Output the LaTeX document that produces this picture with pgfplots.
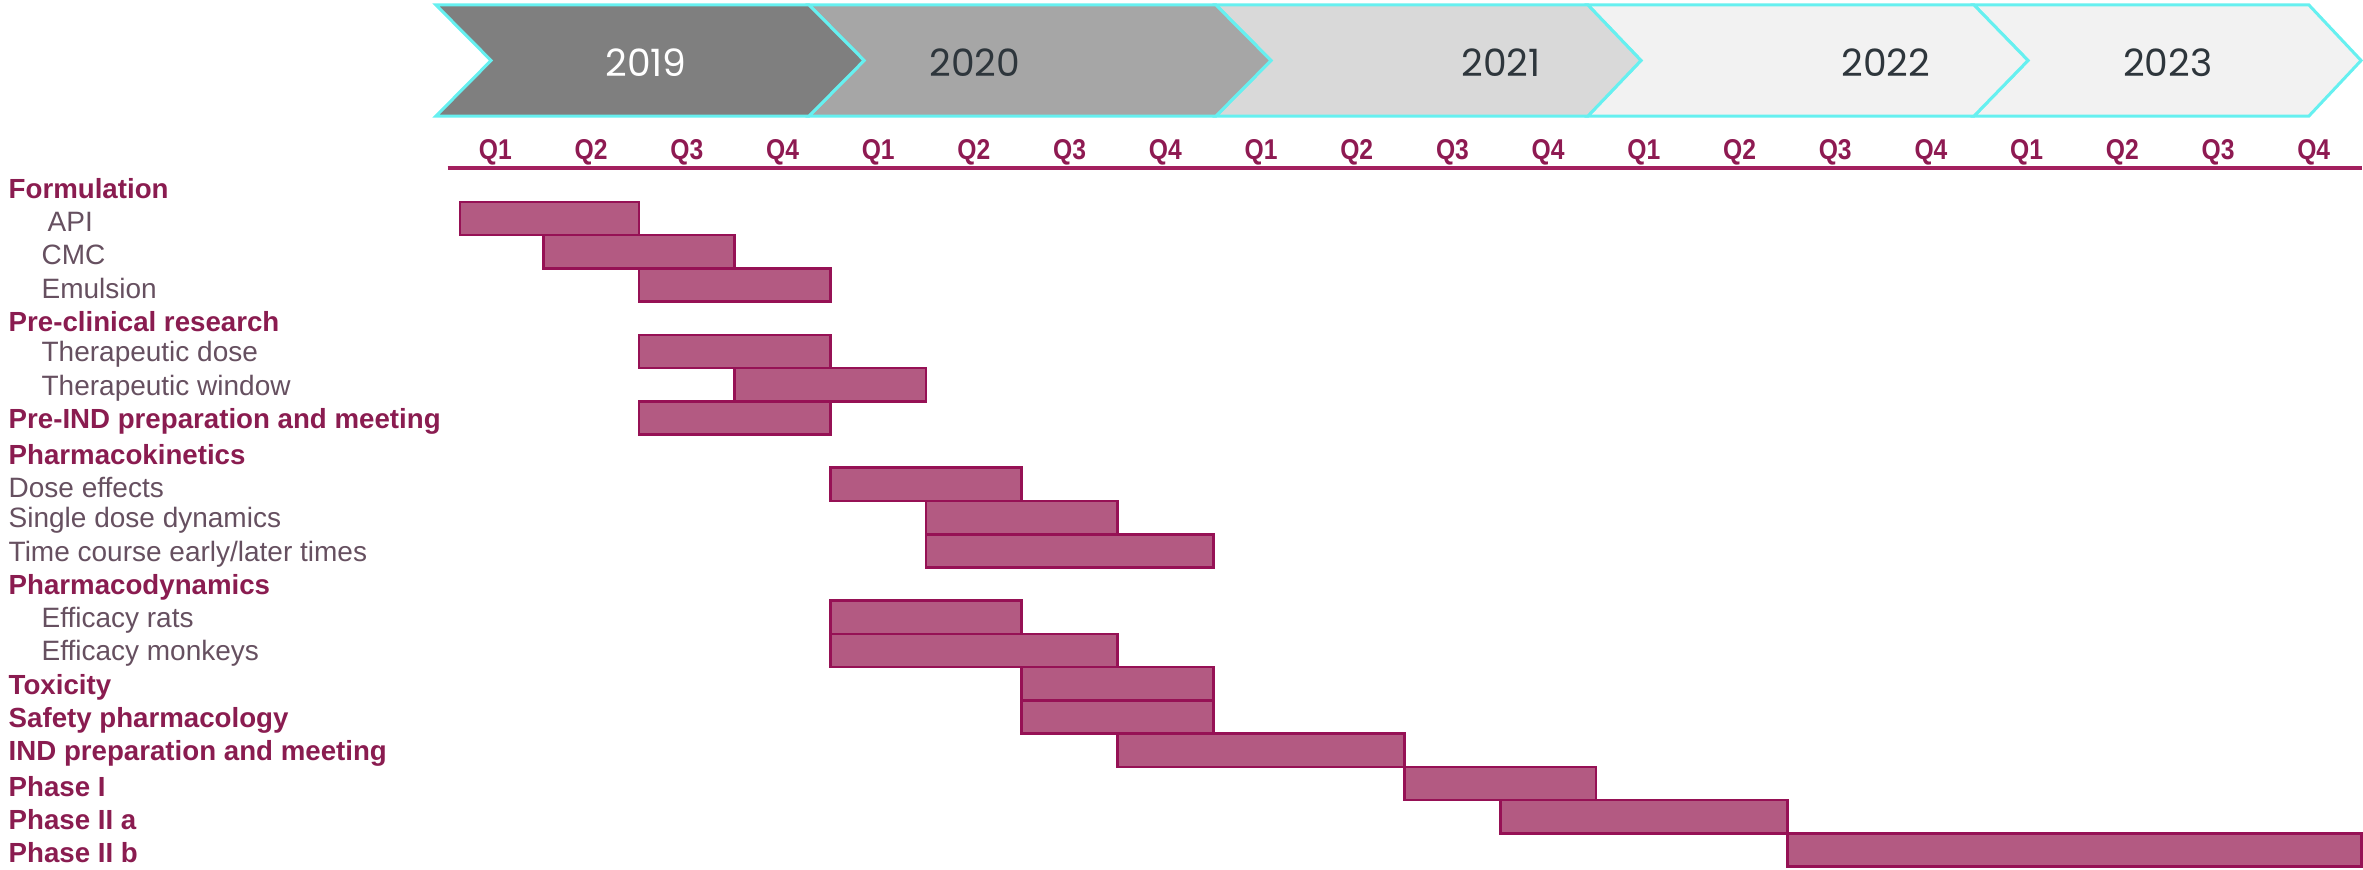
\documentclass[border=0pt]{standalone}
\usepackage{fontspec}
\setmainfont{Liberation Sans}
\newfontfamily\yearfont{Poppins}
\newfontfamily\qfont[FakeStretch=0.86]{Liberation Sans}
\usepackage{pgfplots}
\usepackage{pgfplotstable}
\pgfplotsset{compat=1.18}
\definecolor{barfill}{HTML}{B35A82}
\definecolor{barline}{HTML}{961155}
\definecolor{head}{HTML}{8A1C50}
\definecolor{sub}{HTML}{665060}
\definecolor{qcol}{HTML}{8E1A52}
\definecolor{qline}{HTML}{A3205E}
\definecolor{cyanl}{HTML}{66F0F0}
\definecolor{ch1}{HTML}{7F7F7F}
\definecolor{ch2}{HTML}{A6A6A6}
\definecolor{ch3}{HTML}{D9D9D9}
\definecolor{ch4}{HTML}{F2F2F2}
\definecolor{ytext}{HTML}{2E363C}

% row index (0 = Formulation), start quarter, duration in quarters (0 = Q1 2019)
\pgfplotstableread{
row start dur
1  0.13 1.87
2  1    2
3  2    2
5  2    2
6  3    2
7  2    2
9  4    2
10 5    2
11 5    3
13 4    2
14 4    3
15 6    2
16 6    2
17 7    3
18 10   2
19 11   3
20 14   6
}\tasks

\begin{document}
\begin{tikzpicture}
\begin{axis}[
  width=708.9pt, height=260.7pt, scale only axis,
  xmin=-4.677, xmax=20.015, ymin=-5.576, ymax=20.575,
  y dir=reverse, hide axis, clip=false,
  xbar stacked, bar width=1,
]
\coordinate (bbA) at (rel axis cs:0,0);
\coordinate (bbB) at (rel axis cs:1,1);
\coordinate (y2019) at (axis cs:2.073,-3.70);
\coordinate (y2020) at (axis cs:5.511,-3.70);
\coordinate (y2021) at (axis cs:11.007,-3.70);
\coordinate (y2022) at (axis cs:15.030,-3.70);
\coordinate (y2023) at (axis cs:17.976,-3.70);

\addplot[draw=none, fill=none] table[x=start, y=row]{\tasks};
\addplot[fill=barfill, draw=barline, line width=0.8pt] table[x=dur, y=row]{\tasks};

% year chevrons
\filldraw[fill=ch1, draw=cyanl, line width=0.9pt] (axis cs:-0.121,-5.426) -- (axis cs:3.777,-5.426) -- (axis cs:4.352,-3.756) -- (axis cs:3.777,-2.085) -- (axis cs:-0.121,-2.085) -- (axis cs:0.454,-3.756) -- cycle;
\filldraw[fill=ch2, draw=cyanl, line width=0.9pt] (axis cs:3.777,-5.426) -- (axis cs:8.029,-5.426) -- (axis cs:8.604,-3.756) -- (axis cs:8.029,-2.085) -- (axis cs:3.777,-2.085) -- (axis cs:4.352,-3.756) -- cycle;
\filldraw[fill=ch3, draw=cyanl, line width=0.9pt] (axis cs:8.029,-5.426) -- (axis cs:11.916,-5.426) -- (axis cs:12.470,-3.756) -- (axis cs:11.916,-2.085) -- (axis cs:8.029,-2.085) -- (axis cs:8.604,-3.756) -- cycle;
\filldraw[fill=ch4, draw=cyanl, line width=0.9pt] (axis cs:11.916,-5.426) -- (axis cs:15.950,-5.426) -- (axis cs:16.514,-3.756) -- (axis cs:15.950,-2.085) -- (axis cs:11.916,-2.085) -- (axis cs:12.470,-3.756) -- cycle;
\filldraw[fill=ch4, draw=cyanl, line width=0.9pt] (axis cs:15.950,-5.426) -- (axis cs:19.450,-5.426) -- (axis cs:19.995,-3.756) -- (axis cs:19.450,-2.085) -- (axis cs:15.950,-2.085) -- (axis cs:16.514,-3.756) -- cycle;

% quarter labels and rule
\pgfplotsinvokeforeach{0,...,19}{
  \node[font=\qfont\fontsize{8.6}{10}\selectfont\bfseries, text=qcol, inner sep=0pt] at (axis cs:#1+0.5,-1.0) {Q\pgfmathparse{int(mod(#1,4)+1)}\pgfmathresult};
}
\draw[qline, line width=1.4pt] (axis cs:0,-0.52) -- (axis cs:20.0,-0.52);

% task labels
\tikzset{
  hd/.style={anchor=west, inner sep=0pt, text=head, font=\fontsize{8.3}{10}\selectfont\bfseries},
  sb/.style={anchor=west, inner sep=0pt, text=sub, font=\fontsize{8.4}{10}\selectfont},
}
\node[hd] at (axis cs:-4.593,0.093) {Formulation};
\node[sb] at (axis cs:-4.186,1.093) {API};
\node[sb] at (axis cs:-4.249,2.093) {CMC};
\node[sb] at (axis cs:-4.249,3.093) {Emulsion};
\node[hd] at (axis cs:-4.593,4.093) {Pre-clinical research};
\node[sb] at (axis cs:-4.249,5.093) {Therapeutic dose};
\node[sb] at (axis cs:-4.249,6.093) {Therapeutic window};
\node[hd] at (axis cs:-4.593,7.093) {Pre-IND preparation and meeting};
\node[hd] at (axis cs:-4.593,8.093) {Pharmacokinetics};
\node[sb] at (axis cs:-4.593,9.093) {Dose effects};
\node[sb] at (axis cs:-4.593,10.093) {Single dose dynamics};
\node[sb] at (axis cs:-4.593,11.093) {Time course early/later times};
\node[hd] at (axis cs:-4.593,12.093) {Pharmacodynamics};
\node[sb] at (axis cs:-4.249,13.093) {Efficacy rats};
\node[sb] at (axis cs:-4.249,14.093) {Efficacy monkeys};
\node[hd] at (axis cs:-4.593,15.093) {Toxicity};
\node[hd] at (axis cs:-4.593,16.093) {Safety pharmacology};
\node[hd] at (axis cs:-4.593,17.093) {IND preparation and meeting};
\node[hd] at (axis cs:-4.593,18.093) {Phase I};
\node[hd] at (axis cs:-4.593,19.093) {Phase II a};
\node[hd] at (axis cs:-4.593,20.093) {Phase II b};
\end{axis}
\tikzset{yr/.style={inner sep=0pt, font=\yearfont\fontsize{11.3}{13}\selectfont}}
\node[yr, text=white] at (y2019) {2019};
\node[yr, text=ytext] at (y2020) {2020};
\node[yr, text=ytext] at (y2021) {2021};
\node[yr, text=ytext] at (y2022) {2022};
\node[yr, text=ytext] at (y2023) {2023};
\pgfresetboundingbox
\useasboundingbox (bbA) rectangle (bbB);
\end{tikzpicture}
\end{document}
